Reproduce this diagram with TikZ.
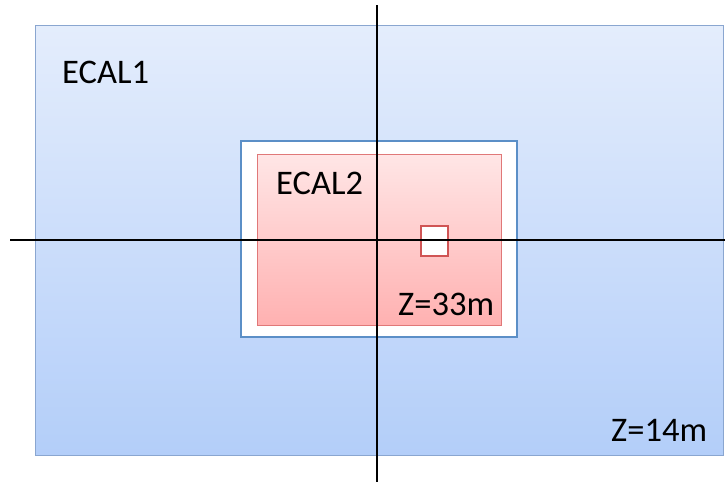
\documentclass[tikz,border=0pt]{standalone}
\usepackage{fontspec}
\setmainfont{Carlito}
\definecolor{outerTop}{HTML}{E4EDFC}
\definecolor{outerBot}{HTML}{B3CEF9}
\definecolor{outerEdge}{HTML}{8AA6D0}
\definecolor{innerEdge}{HTML}{5B8FC7}
\definecolor{pinkTop}{HTML}{FFE6E6}
\definecolor{pinkBot}{HTML}{FFB1B1}
\definecolor{pinkEdge}{HTML}{E07878}
\definecolor{sqEdge}{HTML}{D05555}
\tikzset{
  lbl/.style={font=\fontsize{34.5}{40}\selectfont, inner sep=0pt},
  axisline/.style={draw=black, line width=1.6pt},
}
\begin{document}
\begin{tikzpicture}[x=1pt,y=-1pt]
\useasboundingbox (0,0) rectangle (725,485);
\fill[fill=white] (0,0) rectangle (725,485);
\path[draw=outerEdge, line width=1pt, top color=outerTop, bottom color=outerBot] (35,25) rectangle (723,455);
\path[draw=innerEdge, line width=1.5pt, fill=white] (241,141) rectangle (517,337);
\path[draw=pinkEdge, line width=1pt, top color=pinkTop, bottom color=pinkBot] (257,154) rectangle (501,325);
\path[draw=sqEdge, line width=1.2pt, fill=white] (421,226) rectangle (448,256);
\coordinate (vt) at (377,5);
\coordinate (vb) at (377,482);
\coordinate (hl) at (10,240);
\coordinate (hr) at (725,240);
\draw[axisline] (vt) -- (vb);
\draw[axisline] (hl) -- (hr);
\node[lbl, anchor=base west] (e1) at (62,83) {ECAL1};
\node[lbl, anchor=base west] (e2) at (276,194) {ECAL2};
\node[lbl, anchor=base west] (z33) at (398,315) {Z=33m};
\node[lbl, anchor=base west] (z14) at (611,441) {Z=14m};
\end{tikzpicture}
\end{document}
